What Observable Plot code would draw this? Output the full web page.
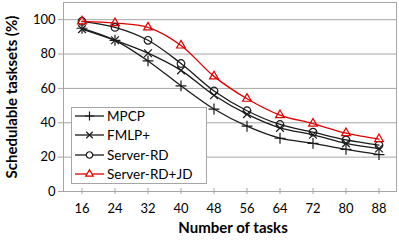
<!DOCTYPE html>
<html><head><meta charset="utf-8">
<script src="https://cdn.jsdelivr.net/npm/d3@7"></script>
<script src="https://cdn.jsdelivr.net/npm/@observablehq/plot@0.6"></script>
<style>
body{margin:0;background:#fff;}
#wrap{position:relative;width:399px;height:240px;font-family:Lato,sans-serif;}
#legend{position:absolute;left:71px;top:107px;width:136px;height:77px;border:1px solid #a6a6a6;background:#fff;box-sizing:border-box;}
.li{position:absolute;left:3px;height:18px;display:flex;align-items:center;font-size:13.5px;color:#000;}
.li svg{margin-right:3px}
</style></head>
<body><div id="wrap"></div>
<script>
const tasks = [16, 24, 32, 40, 48, 56, 64, 72, 80, 88];
const mpcp = [95, 88, 76, 61.5, 48, 38, 31, 28, 24.5, 21.5];
const fmlp = [94.5, 88, 80.5, 70.5, 56, 45, 37, 33, 28, 25];
const serverRD = [99, 95.5, 88, 74.5, 58.5, 47, 39, 34.5, 30, 27];
const serverRDJD = [99, 98, 95.5, 85, 67, 54, 44.5, 39.5, 34, 30.5];
const yTicks = [0, 20, 40, 60, 80, 100];
const seriesNames = ["MPCP", "FMLP+", "Server-RD", "Server-RD+JD"];
const seriesValues = [mpcp, fmlp, serverRD, serverRDJD];
const seriesColors = ["#1a1a1a", "#1a1a1a", "#1a1a1a", "#e00000"];
const seriesSymbols = ["plus", "times", "circle", "triangle2"];
const symbolR = {plus: 3.6, times: 3.6, circle: 3.8, triangle2: 4.2};

const data = [];
seriesNames.forEach((s, i) => tasks.forEach((t, j) => data.push({series: s, task: String(t), value: seriesValues[i][j]})));

const marks = [
  Plot.gridY(yTicks.filter(d => d > 0), {stroke: "#a6a6a6", strokeOpacity: 1}),
  Plot.frame({stroke: "#a6a6a6"}),
  Plot.axisY(yTicks, {tickSize: 5, tickPadding: 3, fontSize: 13, stroke: "#a6a6a6", label: null, fill: "#000"}),
  Plot.axisX({tickSize: 6, dy: -3, text: null, stroke: "#a6a6a6", label: null}),
  Plot.axisX({tickSize: 0, tickPadding: 12, fontSize: 13, label: null}),
];
seriesNames.forEach((s, i) => {
  const d = data.filter(r => r.series === s);
  marks.push(Plot.line(d, {x: "task", y: "value", stroke: seriesColors[i], strokeWidth: 1.3, curve: "catmull-rom"}));
});
seriesNames.forEach((s, i) => {
  const d = data.filter(r => r.series === s);
  const sym = seriesSymbols[i];
  marks.push(Plot.dot(d, {x: "task", y: "value", stroke: seriesColors[i], fill: (sym==="circle"||sym==="triangle2") ? "white" : "none", fillOpacity: 0, symbol: () => sym, r: symbolR[sym], strokeWidth: 1.2}));
});
marks.push(Plot.text(["Number of tasks"], {frameAnchor: "bottom", dy: 41, dx: 3, fontWeight: "bold", fontSize: 15, text: d => d}));
marks.push(Plot.text(["Schedulable tasksets (%)"], {frameAnchor: "left", dx: -51, textAnchor: "middle", rotate: -90, fontWeight: "bold", fontSize: 15, text: d => d}));

const chart = Plot.plot({
  width: 399, height: 240,
  marginLeft: 63, marginRight: 3, marginTop: 2, marginBottom: 49,
  style: {fontFamily: "Lato, sans-serif", color: "#000", background: "#fff", overflow: "visible"},
  x: {type: "band", domain: tasks.map(String), padding: 0, align: 0.5},
  y: {domain: [0, 110]},
  marks
});
const wrap = document.getElementById("wrap");
wrap.appendChild(chart);

const legend = document.createElement("div");
legend.id = "legend";
const symMap = {plus: d3.symbolPlus, times: d3.symbolTimes, circle: d3.symbolCircle, triangle2: d3.symbolTriangle2};
seriesNames.forEach((s, i) => {
  const item = document.createElement("div");
  item.className = "li";
  item.style.top = (-1 + i * 19.3) + "px";
  const sym = seriesSymbols[i];
  const r = symbolR[sym] * 0.85;
  const path = d3.symbol(symMap[sym], Math.PI * r * r)();
  const fill = (sym==="circle"||sym==="triangle2") ? "white" : "none";
  item.innerHTML = `<svg width="29" height="14"><line x1="0" x2="29" y1="7" y2="7" stroke="${seriesColors[i]}" stroke-width="1.3"/><path d="${path}" transform="translate(14.5,7)" stroke="${seriesColors[i]}" fill="${fill}" stroke-width="1.2"/></svg><span>${s}</span>`;
  legend.appendChild(item);
});
wrap.appendChild(legend);
</script></body></html>
